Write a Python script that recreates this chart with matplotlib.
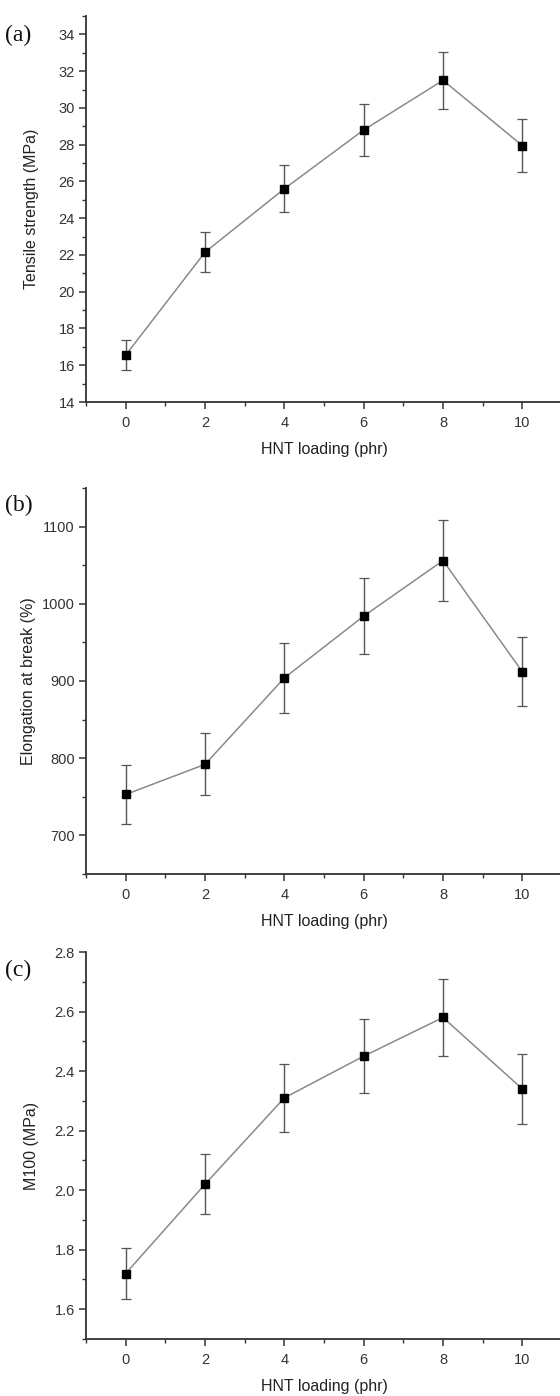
import matplotlib
matplotlib.use("Agg")
import matplotlib.pyplot as plt
from matplotlib.ticker import MultipleLocator

# ---- data ----
hnt_loading = [0, 2, 4, 6, 8, 10]

tensile_strength = [16.55, 22.15, 25.6, 28.8, 31.5, 27.95]
tensile_err = [0.83, 1.1, 1.28, 1.43, 1.55, 1.42]

elongation = [753, 792, 904, 984, 1056, 912]
elongation_err = [38, 40, 45, 49, 53, 45]

m100 = [1.72, 2.02, 2.31, 2.45, 2.58, 2.34]
m100_err = [0.085, 0.10, 0.115, 0.124, 0.13, 0.118]

panel_labels = ["(a)", "(b)", "(c)"]
y_labels = ["Tensile strength (MPa)", "Elongation at break (%)", "M100 (MPa)"]
x_label = "HNT loading (phr)"

plt.rcParams['font.family'] = ['Liberation Sans', 'DejaVu Sans']

W, H = 560, 1396
fig = plt.figure(figsize=(W / 100, H / 100), dpi=100)

def px_axes(left, top, right, bottom):
    return fig.add_axes([left / W, 1 - bottom / H, (right - left) / W, (bottom - top) / H])

specs = [
    dict(box=(86, 16, 562, 402), y=tensile_strength, e=tensile_err, ylim=(14, 35),
         major=2, minor=1, fmt="{:.0f}", lab_x=-0.099, plab_y=35),
    dict(box=(86, 488, 562, 874), y=elongation, e=elongation_err, ylim=(650, 1150),
         major=100, minor=50, fmt="{:.0f}", lab_x=-0.105, plab_y=505),
    dict(box=(86, 952, 562, 1339), y=m100, e=m100_err, ylim=(1.5, 2.8),
         major=0.2, minor=0.1, fmt="{:.1f}", lab_x=-0.099, plab_y=970),
]

axis_col = "#333333"
for i, s in enumerate(specs):
    ax = px_axes(*s["box"])
    ax.errorbar(hnt_loading, s["y"], yerr=s["e"], fmt='none', ecolor="#555555",
                elinewidth=1.0, capsize=3.5, capthick=0.9, zorder=2)
    ax.plot(hnt_loading, s["y"], color="#8a8a8a", lw=1.1, zorder=3)
    ax.plot(hnt_loading, s["y"], ls='none', marker='s', ms=6, color="black", zorder=4)
    ax.set_xlim(-1, 11)
    ax.set_ylim(*s["ylim"])
    ax.xaxis.set_major_locator(MultipleLocator(2))
    ax.xaxis.set_minor_locator(MultipleLocator(1))
    ax.yaxis.set_major_locator(MultipleLocator(s["major"]))
    ax.yaxis.set_minor_locator(MultipleLocator(s["minor"]))
    fmt = s["fmt"]
    ax.yaxis.set_major_formatter(plt.FuncFormatter(lambda v, p, f=fmt: f.format(v)))
    for sp in ["top", "right"]:
        ax.spines[sp].set_visible(False)
    for sp in ["left", "bottom"]:
        ax.spines[sp].set_color(axis_col)
        ax.spines[sp].set_linewidth(1.3)
    ax.tick_params(which='major', direction='out', length=5, width=1.1, color=axis_col,
                   labelsize=10.5, labelcolor="#333333", pad=3)
    ax.tick_params(which='minor', direction='out', length=3, width=1.0, color=axis_col)
    ax.tick_params(axis='x', which='major', pad=5)
    ax.set_xlabel(x_label, fontsize=11.5, color="#222222", labelpad=9)
    ax.set_ylabel(y_labels[i], fontsize=11.5, color="#222222")
    ax.yaxis.set_label_coords(s["lab_x"], 0.5)
    fig.text(5 / W, 1 - s["plab_y"] / H, panel_labels[i], fontsize=17,
             family=['Liberation Serif', 'DejaVu Serif'], va='center', ha='left', color="#111111")

fig.savefig("out.png", dpi=100, facecolor="white")
